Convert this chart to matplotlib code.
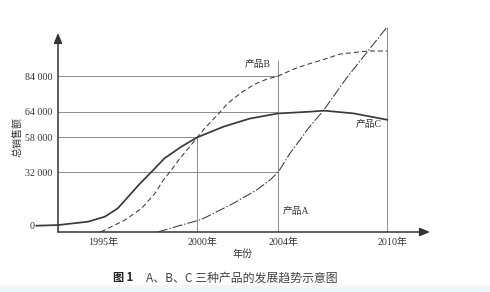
import numpy as np
import matplotlib
matplotlib.use('Agg')
import matplotlib.pyplot as plt
from matplotlib.patches import Rectangle
from matplotlib.transforms import ScaledTranslation

plt.rcParams['font.family'] = ['Liberation Serif', 'Noto Sans CJK SC']

# 坐标轴刻度（示意图，刻度不等距）
tick_years = [1995, 2000, 2004, 2010]
tick_year_labels = ['1995年', '2000年', '2004年', '2010年']
tick_sales = [0, 32000, 58000, 64000, 84000]
tick_sales_labels = ['0', '32 000', '58 000', '64 000', '84 000']

# 产品C（实线）
years_c = [1991.9, 1993.0, 1994.5, 1995.35, 1996.0, 1996.45, 1997.05, 1997.7, 1998.35,
           1999.2, 2000.0, 2001.3, 2002.6, 2004.0, 2005.75, 2006.5, 2008.15, 2010.0]
sales_c = [0, 400, 2400, 5400, 10400, 16300, 24300, 32200, 42300,
           51000, 58000, 60500, 62400, 63600, 64000, 64600, 63600, 62100]

# 产品B（虚线）
years_b = [1995.15, 1995.35, 1996.36, 1997.2, 1997.87, 1998.29, 1998.63, 1999.13, 1999.55,
           2000.0, 2000.38, 2000.97, 2001.52, 2002.21, 2002.85, 2003.45, 2004.0,
           2004.92, 2005.85, 2006.57, 2007.4, 2008.94, 2010.0]
sales_b = [-3700, -2500, 3400, 10400, 19300, 27200, 32200, 42300, 49800,
           58000, 60200, 63100, 68900, 75000, 79500, 82300, 84000,
           88200, 91300, 93500, 96300, 98000, 98000]

# 产品A（点划线）
years_a = [1998.02, 1999.21, 2000.22, 2001.78, 2002.93, 2003.59, 2004.0, 2004.64,
           2005.19, 2005.65, 2006.48, 2007.76, 2008.95, 2010.0]
sales_a = [-3700, 400, 3800, 13300, 21300, 27200, 32000, 46000,
           56000, 60100, 64600, 82900, 98200, 111600]

# 辅助线
grid_sales = [32000, 58000, 64000, 84000]
grid_end_years = [2004, 2000, 2004, 2004]
vline_years = [2000, 2004, 2010]
vline_tops = [58000, 92900, 111600]


def piecewise(vals, pos):
    vals = np.asarray(vals, float)
    pos = np.asarray(pos, float)

    def build(a, b):
        lo = (b[1] - b[0]) / (a[1] - a[0])
        hi = (b[-1] - b[-2]) / (a[-1] - a[-2])

        def f(v):
            v = np.asarray(v, float)
            out = np.interp(v, a, b)
            out = np.where(v < a[0], b[0] + (v - a[0]) * lo, out)
            out = np.where(v > a[-1], b[-1] + (v - a[-1]) * hi, out)
            return out
        return f
    return build(vals, pos), build(pos, vals)


# 示意图的刻度位置（像素），不等距
xf, xi = piecewise(tick_years, [98, 197.3, 278.3, 387.3])
yf, yi = piecewise(tick_sales, [6.3, 60, 94.7, 120.3, 156])

W, H = 490, 292
fig = plt.figure(figsize=(W / 100, H / 100), dpi=100)
fig.patches.append(Rectangle((0, 0), 1, 7 / H, transform=fig.transFigure,
                             color='#eef8fb', zorder=0))
ax = fig.add_axes([58 / W, (H - 232) / H, (430 - 58) / W, 208 / H])
ax.set_xscale('function', functions=(xf, xi))
ax.set_yscale('function', functions=(yf, yi))
x0, x1 = float(xi(58)), float(xi(430))
y0, y1 = float(yi(0)), float(yi(208))
ax.set_xlim(x0, x1)
ax.set_ylim(y0, y1)
ax.patch.set_alpha(0)

for s in ax.spines.values():
    s.set_visible(False)

line_col = '#3a3a3a'
grid_col = '#8c8c8c'

ax.hlines(grid_sales, x0, grid_end_years, color=grid_col, lw=0.7)
ax.vlines(vline_years, y0, vline_tops, color=grid_col, lw=0.7)

ax.plot(years_c, sales_c, color=line_col, lw=1.25, clip_on=False, solid_joinstyle='round')
ax.plot(years_b, sales_b, color=line_col, lw=0.75, linestyle=(0, (4.8, 2.9)))
ax.plot(years_a, sales_a, color=line_col, lw=0.75, linestyle=(0, (9.5, 1.9, 1.4, 1.9)), clip_on=False)

arrow = dict(arrowstyle='-|>,head_length=0.6,head_width=0.25', color='#333333', lw=1.1,
             shrinkA=0, shrinkB=0)
ax.annotate('', xy=(0, (232 - 33) / 208), xytext=(0, 0), xycoords='axes fraction', arrowprops=arrow)
ax.annotate('', xy=(1, 0), xytext=(0, 0), xycoords='axes fraction', arrowprops=arrow)

ax.set_xticks(tick_years, labels=tick_year_labels)
ax.set_yticks(tick_sales, labels=tick_sales_labels)
ax.minorticks_off()
ax.tick_params(axis='both', length=0, labelsize=7.2, colors='#333333')
ax.tick_params(axis='x', pad=4.3)
ax.tick_params(axis='y', pad=4.3)
for lab in ax.get_xticklabels():
    lab.set_transform(lab.get_transform() + ScaledTranslation(5 / 100, 0, fig.dpi_scale_trans))
ylabs = ax.get_yticklabels()
ylabs[0].set_transform(ylabs[0].get_transform() + ScaledTranslation(-17 / 100, 0, fig.dpi_scale_trans))

ax.text(2002.96, 90700, '产品B', fontsize=7, ha='center', va='center', color='#333333')
ax.text(2008.96, 61100, '产品C', fontsize=7, ha='center', va='center', color='#333333')
ax.text(2004.95, 8340, '产品A', fontsize=7, ha='center', va='center', color='#333333')

fig.text(17 / W, 1 - 137 / H, '总销售额', rotation=90, fontsize=7.2, ha='center', va='center',
         color='#333333')
fig.text(243 / W, 1 - 254 / H, '年份', fontsize=7.2, ha='center', va='center', color='#333333')

fig.text(113 / W, 1 - 278 / H, '图 1', fontsize=8, fontweight='bold', ha='left', va='center',
         family=['Noto Sans CJK SC'], color='#222222')
fig.text(146 / W, 1 - 278 / H, 'A、B、C 三种产品的发展趋势示意图', fontsize=8.6, ha='left', va='center',
         family=['Noto Sans CJK SC'], color='#444444')

fig.savefig('out.png', dpi=100)
